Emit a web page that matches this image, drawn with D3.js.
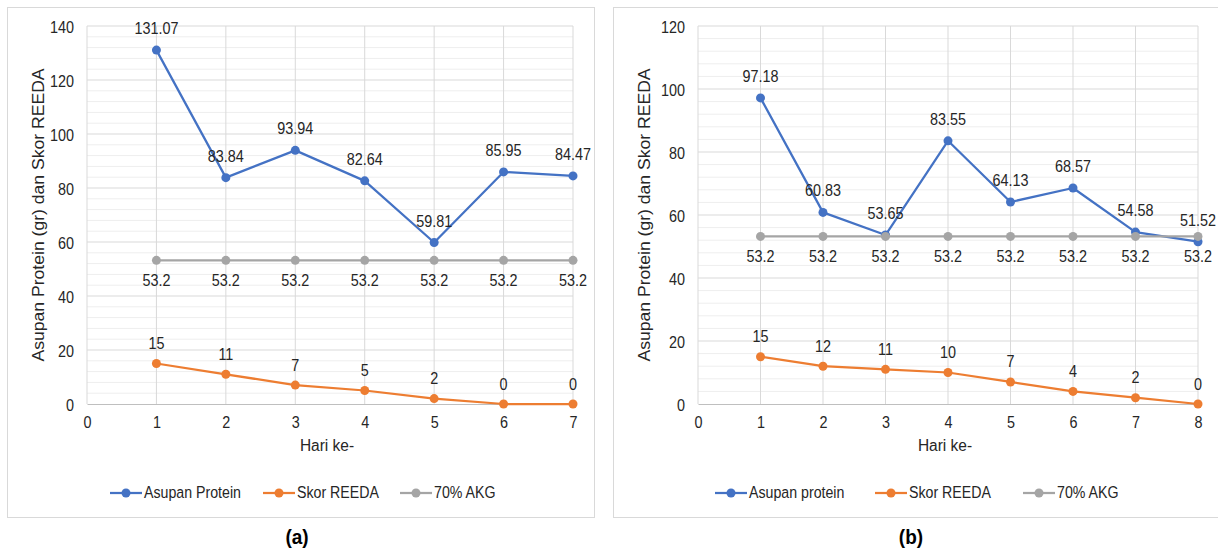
<!DOCTYPE html>
<html>
<head>
<meta charset="utf-8">
<script src="https://cdn.jsdelivr.net/npm/d3@7"></script>
<style>
  body { margin: 0; background: #fff; }
  text { font-family: "Liberation Sans", Arial, sans-serif; fill: #262626; }
</style>
</head>
<body>
<div id="chart"></div>
<script>
// data for panel (a)
daysA = [1, 2, 3, 4, 5, 6, 7];
proteinA = [131.07, 83.84, 93.94, 82.64, 59.81, 85.95, 84.47];
reedaA = [15, 11, 7, 5, 2, 0, 0];
akgA = [53.2, 53.2, 53.2, 53.2, 53.2, 53.2, 53.2];
legendA = ["Asupan Protein", "Skor REEDA", "70% AKG"];

// data for panel (b)
daysB = [1, 2, 3, 4, 5, 6, 7, 8];
proteinB = [97.18, 60.83, 53.65, 83.55, 64.13, 68.57, 54.58, 51.52];
reedaB = [15, 12, 11, 10, 7, 4, 2, 0];
akgB = [53.2, 53.2, 53.2, 53.2, 53.2, 53.2, 53.2, 53.2];
legendB = ["Asupan protein", "Skor REEDA", "70% AKG"];

colors = ["#4472C4", "#ED7D31", "#A5A5A5"];

// the picture is a bit stretched vertically, so text is too
sy = 1.1;

svg = d3.select("#chart")
  .append("svg")
    .attr("width", 1218)
    .attr("height", 550);

// text placed at (x, y) baseline, stretched by sy
function label(g, x, y, txt, size, anchor) {
  return g.append("text")
    .attr("transform", "translate(" + x + "," + y + ") scale(1," + sy + ")")
    .style("text-anchor", anchor || "middle")
    .style("font-size", size + "px")
    .text(txt);
}

function drawPanel(p) {
  var g = svg.append("g");

  // outer border
  g.append("rect")
    .attr("x", p.box[0]).attr("y", p.box[1])
    .attr("width", p.box[2]).attr("height", p.box[3])
    .attr("fill", "#fff").attr("stroke", "#d9d9d9").attr("stroke-width", 1);

  var x = d3.scaleLinear().domain([0, p.xMax]).range([p.left, p.right]);
  var y = d3.scaleLinear().domain([0, p.yMax]).range([404, 26]);

  // minor gridlines every 4
  g.selectAll(".minor")
    .data(d3.range(0, p.yMax + 0.1, 4).filter(v => v % 20 != 0))
    .enter().append("line")
    .attr("x1", p.left).attr("x2", p.right)
    .attr("y1", d => y(d)).attr("y2", d => y(d))
    .attr("stroke", "#eeeeee").attr("stroke-width", 1);

  // major gridlines
  g.selectAll(".major")
    .data(d3.range(20, p.yMax + 0.1, 20))
    .enter().append("line")
    .attr("x1", p.left).attr("x2", p.right)
    .attr("y1", d => y(d)).attr("y2", d => y(d))
    .attr("stroke", "#d9d9d9").attr("stroke-width", 1);

  // vertical gridlines
  g.selectAll(".vgrid")
    .data(d3.range(0, p.xMax + 1))
    .enter().append("line")
    .attr("x1", d => x(d)).attr("x2", d => x(d))
    .attr("y1", y(p.yMax)).attr("y2", y(0))
    .attr("stroke", "#d9d9d9").attr("stroke-width", 1);

  // x axis
  var xAxis = g.append("g")
    .attr("transform", "translate(0," + y(0) + ")")
    .call(d3.axisBottom(x).ticks(p.xMax).tickSize(0));
  xAxis.select(".domain").attr("stroke", "#bfbfbf");
  xAxis.selectAll("text")
    .attr("y", null).attr("dy", null)
    .attr("transform", "translate(0,24) scale(1," + sy + ")")
    .style("font-size", "14.4px").style("font-family", "Liberation Sans, Arial, sans-serif").attr("fill", "#262626");

  // y axis
  var yAxis = g.append("g")
    .attr("transform", "translate(" + p.left + ",0)")
    .call(d3.axisLeft(y).ticks(p.yMax / 20).tickSize(0));
  yAxis.select(".domain").remove();
  yAxis.selectAll("text")
    .attr("x", null).attr("dy", null)
    .attr("transform", "translate(-13,6) scale(1," + sy + ")")
    .style("font-size", "14.4px").style("font-family", "Liberation Sans, Arial, sans-serif").attr("fill", "#262626");

  // axis titles
  g.append("text")
    .attr("transform", "translate(" + (p.box[0] + 36) + ",215) scale(1," + sy + ") rotate(-90)")
    .style("text-anchor", "middle")
    .style("font-size", "16px")
    .text("Asupan Protein (gr) dan Skor REEDA");

  label(g, (p.left + p.right) / 2 - 3, 451, "Hari ke-", 15.5);

  // series
  var series = [
    { vals: p.protein, color: colors[0], dy: -16 },
    { vals: p.akg, color: colors[2], dy: 26 },
    { vals: p.reeda, color: colors[1], dy: -14.5 }
  ];

  series.forEach(function(s) {
    var pts = p.days.map((d, i) => [d, s.vals[i]]);
    g.append("path")
      .datum(pts)
      .attr("fill", "none")
      .attr("stroke", s.color)
      .attr("stroke-width", 2.25)
      .attr("stroke-linejoin", "round")
      .attr("d", d3.line().x(d => x(d[0])).y(d => y(d[1])));

    g.selectAll(null)
      .data(pts)
      .enter().append("circle")
      .attr("cx", d => x(d[0]))
      .attr("cy", d => y(d[1]))
      .attr("r", 4.5)
      .attr("fill", s.color);

    pts.forEach(function(d) {
      label(g, x(d[0]), y(d[1]) + s.dy, d[1], 14.4);
    });
  });

  // legend
  p.legendX.forEach(function(lx, i) {
    g.append("line")
      .attr("x1", lx).attr("x2", lx + 32)
      .attr("y1", 493).attr("y2", 493)
      .attr("stroke", colors[i]).attr("stroke-width", 2.25);
    g.append("circle")
      .attr("cx", lx + 16).attr("cy", 493).attr("r", 4.5)
      .attr("fill", colors[i]);
    label(g, lx + 34, 498, p.legend[i], 14.2, "start");
  });

  // caption
  label(g, p.captionX, 544, p.caption, 19, "middle")
    .style("font-weight", "bold")
    .style("fill", "#000");
}

drawPanel({
  box: [7.5, 7.5, 587, 510],
  left: 87, right: 573, xMax: 7, yMax: 140,
  days: daysA, protein: proteinA, reeda: reedaA, akg: akgA,
  legend: legendA, legendX: [110, 263, 400],
  caption: "(a)", captionX: 297
});

drawPanel({
  box: [613.5, 7.5, 610, 510],
  left: 698, right: 1198, xMax: 8, yMax: 120,
  days: daysB, protein: proteinB, reeda: reedaB, akg: akgB,
  legend: legendB, legendX: [715, 875, 1023],
  caption: "(b)", captionX: 911
});
</script>
</body>
</html>
